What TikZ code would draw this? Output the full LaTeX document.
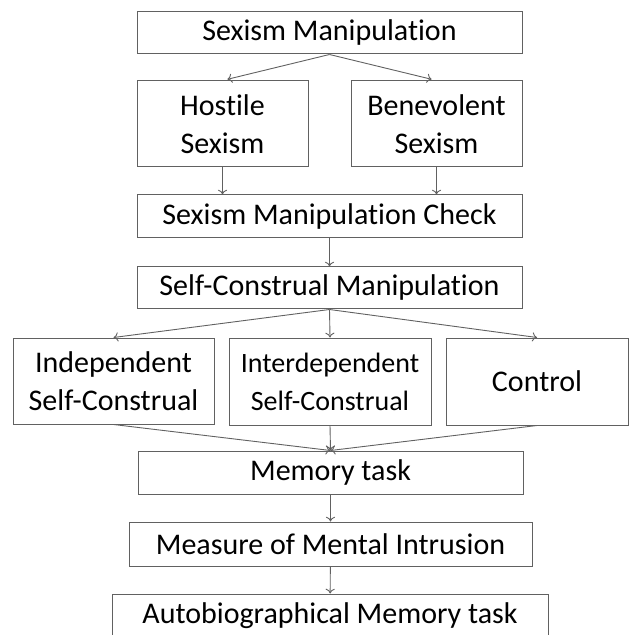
\documentclass[tikz,border=0pt]{standalone}
\usepackage{fontspec}
\setmainfont{Carlito}[Ligatures=NoCommon]
\usetikzlibrary{positioning,arrows.meta}
\tikzset{
  % --- study stages ----------------------------------------------------------
  stage/.style={rectangle,draw=black!62,line width=0.5pt,inner sep=0pt,
                align=center,font=\fontsize{15}{19}\selectfont},
  smallstage/.style={stage,font=\fontsize{14}{19}\selectfont},
  % --- flow between stages ---------------------------------------------------
  flow/.style={-{To[length=2.4pt,width=4.6pt]},black!62,line width=0.45pt},
}

\begin{document}
\begin{tikzpicture}[x=0.5pt, y=-0.5pt]
  \useasboundingbox (0,0) rectangle (635,635);
  \clip (0,0) rectangle (635,635);

  % sexism condition
  \node[stage,minimum width=192.5pt,minimum height=21pt]   (sm)  at (329.5,33)  {Sexism Manipulation};
  \node[stage,minimum width=85.5pt,minimum height=43pt]    (hs)  at (222.5,124) {Hostile\\Sexism};
  \node[stage,minimum width=85.5pt,minimum height=43pt]    (bs)  at (436.5,124) {Benevolent\\Sexism};
  \node[stage,minimum width=192.5pt,minimum height=21.5pt] (chk) at (329.5,216.5) {Sexism Manipulation Check};

  % self-construal condition
  \node[stage,minimum width=192.5pt,minimum height=21pt]   (scm) at (329.5,288) {Self-Construal Manipulation};
  \node[stage,minimum width=100.5pt,minimum height=43pt]   (ind) at (113.5,381) {Independent\\Self-Construal};
  \node[smallstage,minimum width=101pt,minimum height=43.5pt] (inter) at (330,381.5) {Interdependent\\Self-Construal};
  \node[stage,minimum width=91pt,minimum height=43.5pt]    (ctl) at (537,381.5) {Control};

  % outcome measures
  \node[stage,minimum width=192.5pt,minimum height=21.5pt] (mem) at (330.5,472.5) {Memory task};
  \node[stage,minimum width=201.5pt,minimum height=22pt]   (mmi) at (330.5,544) {Measure of Mental Intrusion};
  \node[stage,minimum width=218pt,minimum height=22pt]     (abm) at (330,616) {Autobiographical Memory task};

  \draw[flow,shorten >=2.5pt] (sm.south) -- (hs.north);
  \draw[flow,shorten >=2.5pt] (sm.south) -- (bs.north);
  \draw[flow] (hs.south) -- (hs.south |- chk.north);
  \draw[flow] (bs.south) -- (bs.south |- chk.north);
  \draw[flow] (chk) -- (scm);
  \foreach \c in {ind,inter,ctl}
    \draw[flow] (scm.south) -- (\c.north);
  \foreach \c in {ind,inter,ctl}
    \draw[flow] (\c.south) -- (mem.north);
  \draw[flow] (mem) -- (mmi);
  \draw[flow] (mmi) -- (abm);
\end{tikzpicture}
\end{document}
